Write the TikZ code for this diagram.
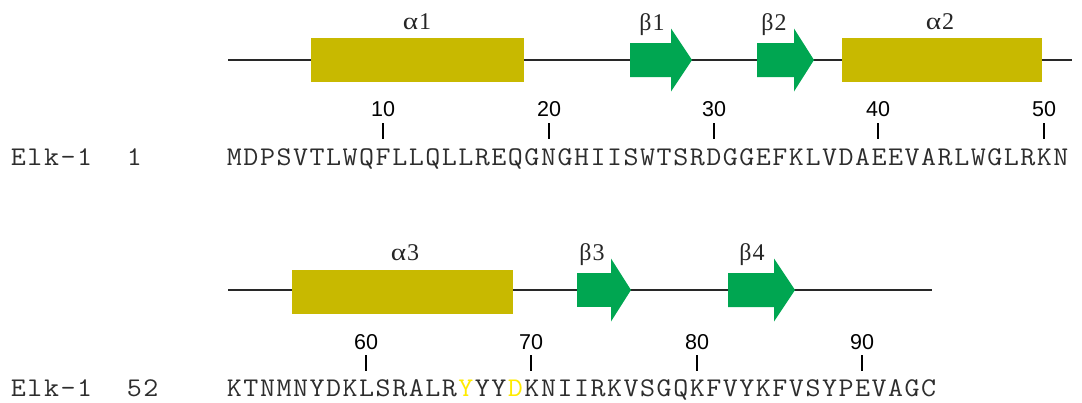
\documentclass[tikz,border=0pt]{standalone}
\usepackage{fontspec}
\setmainfont{Liberation Serif}
\newfontfamily\seqfont{Latin Modern Mono}
\newfontfamily\numfont{Liberation Sans}
\definecolor{helixcol}{RGB}{200,185,0}
\definecolor{strandcol}{RGB}{0,166,81}
\definecolor{linecol}{RGB}{40,40,40}
\definecolor{seqcol}{RGB}{45,45,45}
\definecolor{hilite}{RGB}{255,235,0}

% one residue per fixed-width cell, so every line keeps the same pitch
\newlength\cellw \setlength\cellw{16.53pt}
\def\cellend{\relax}
\def\cells#1{\def\celltmp{#1}%
  \ifx\celltmp\cellend\else\makebox[\cellw]{\scalebox{1.08}[1]{#1}}\expandafter\cells\fi}
\newcommand\hl[1]{\textcolor{hilite}{#1}}
% wide upright Greek letter for the element labels
\newcommand\gk[1]{\scalebox{1.22}[1]{#1}}

% beta strand: body from #1 to #2, tip at #3, centred on height #4
\newcommand\strandarrow[4]{%
  \fill[strandcol] (#1,#4-17) -- (#2,#4-17) -- (#2,#4-31.5) -- (#3,#4)
    -- (#2,#4+31.5) -- (#2,#4+17) -- (#1,#4+17) -- cycle;}

\begin{document}
\begin{tikzpicture}[x=1pt,y=-1pt,
  backbone/.style={draw=linecol, line width=2.5pt},
  helixbox/.style={fill=helixcol, draw=none},
  tickmark/.style={draw=black, line width=2pt},
  seqtext/.style={font=\seqfont\fontsize{27}{30}\selectfont, text=seqcol, anchor=base west, inner sep=0pt},
  numtext/.style={font=\numfont\fontsize{21.5}{24}\selectfont, anchor=base, inner sep=0pt},
  sslabel/.style={font=\fontsize{24}{26}\selectfont, text=black!85, anchor=base, inner sep=0pt}]
\useasboundingbox (0,0) rectangle (1082,402);

% ---------- first line: residues 1-51 ----------
\coordinate (b1s) at (228,60);
\coordinate (b1e) at (1072,60);
\draw[backbone] (b1s) -- (b1e);

\fill[helixbox] (311,38) rectangle (524,82);
\fill[helixbox] (842,38) rectangle (1042,82);
\strandarrow{630}{671}{692}{60}
\strandarrow{757}{794}{814}{60}

\node[sslabel] (a1) at (417,29.5) {\gk{α}\kern1pt 1};
\node[sslabel] (s1) at (652,30.5) {β\kern1pt 1};
\node[sslabel] (s2) at (774,30.5) {β\kern1pt 2};
\node[sslabel] (a2) at (940,29.5) {\gk{α}\kern1pt 2};

\foreach \n/\x in {10/383,20/549,30/714,40/878,50/1044}{
  \node[numtext] (n\n) at (\x,116) {\n};
  \draw[tickmark] (\x,123) -- (\x,139);
}

\node[seqtext] (name1) at (10,165) {\cells Elk-1\relax};
\node[seqtext] (num1) at (126,165) {\cells 1\relax};
\node[seqtext] (seq1) at (226,165) {\cells MDPSVTLWQFLLQLLREQGNGHIISWTSRDGGEFKLVDAEEVARLWGLRKN\relax};

% ---------- second line: residues 52-94 ----------
\coordinate (b2s) at (228,290);
\coordinate (b2e) at (932,290);
\draw[backbone] (b2s) -- (b2e);

\fill[helixbox] (292,270) rectangle (513,314);
\fill[strandcol] (577,273) rectangle (611.3,307);
\fill[strandcol] (611,258.5) -- (631,290) -- (611,321.5) -- cycle;
\strandarrow{728}{774}{795}{290}

\node[sslabel] (a3) at (405,260) {\gk{α}\kern1pt 3};
\node[sslabel] (s3) at (592,260.5) {β\kern1pt 3};
\node[sslabel] (s4) at (752,260.5) {β\kern1pt 4};

\foreach \n/\x in {60/366,70/531,80/697,90/862}{
  \node[numtext] (n\n) at (\x,349) {\n};
  \draw[tickmark] (\x,355) -- (\x,371);
}

\node[seqtext] (name2) at (10,396) {\cells Elk-1\relax};
\node[seqtext] (num2) at (126,396) {\cells 52\relax};
\node[seqtext] (seq2) at (226,396) {\cells KTNMNYDKLSRALR{\hl Y}YY{\hl D}KNIIRKVSGQKFVYKFVSYPEVAGC\relax};
\end{tikzpicture}
\end{document}
